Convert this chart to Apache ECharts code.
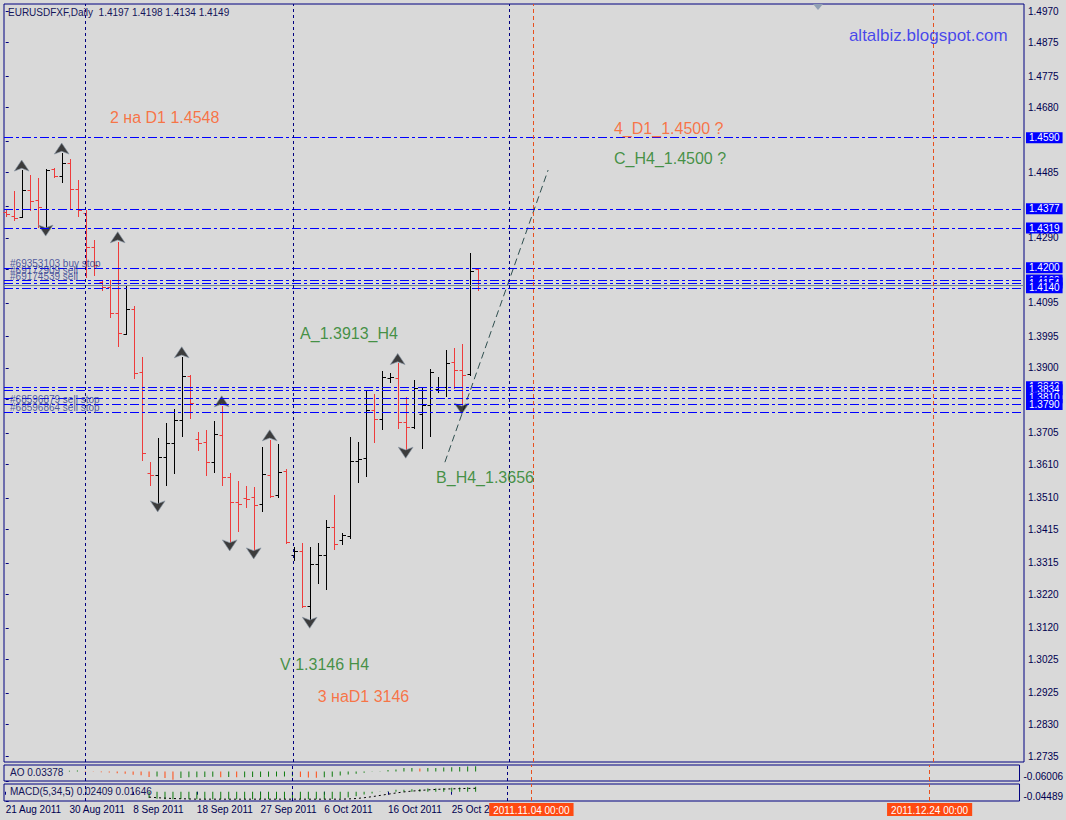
<!DOCTYPE html>
<html><head><meta charset="utf-8">
<script src="https://cdn.jsdelivr.net/npm/echarts@6/dist/echarts.min.js"></script>
<style>html,body{margin:0;padding:0;background:#d9d9d9}#c{width:1066px;height:820px}</style>
</head><body><div id="c"></div><script>
const dates = ['21 Aug 2011','22 Aug 2011','23 Aug 2011','24 Aug 2011','25 Aug 2011','26 Aug 2011','28 Aug 2011','29 Aug 2011','30 Aug 2011','31 Aug 2011',
'1 Sep 2011','2 Sep 2011','4 Sep 2011','5 Sep 2011','6 Sep 2011','7 Sep 2011','8 Sep 2011','9 Sep 2011','11 Sep 2011','12 Sep 2011',
'13 Sep 2011','14 Sep 2011','15 Sep 2011','16 Sep 2011','18 Sep 2011','19 Sep 2011','20 Sep 2011','21 Sep 2011','22 Sep 2011','23 Sep 2011',
'25 Sep 2011','26 Sep 2011','27 Sep 2011','28 Sep 2011','29 Sep 2011','30 Sep 2011','2 Oct 2011','3 Oct 2011','4 Oct 2011','5 Oct 2011',
'6 Oct 2011','7 Oct 2011','9 Oct 2011','10 Oct 2011','11 Oct 2011','12 Oct 2011','13 Oct 2011','14 Oct 2011','16 Oct 2011','17 Oct 2011',
'18 Oct 2011','19 Oct 2011','20 Oct 2011','21 Oct 2011','23 Oct 2011','24 Oct 2011','25 Oct 2011','26 Oct 2011','27 Oct 2011','28 Oct 2011'];
const open  = [1.4367,1.4355,1.4352,1.4433,1.4403,1.4376,1.4496,1.4475,1.4514,1.4436,1.4364,1.4263,1.4158,1.4143,1.4065,1.4002,1.4077,1.3888,1.3585,1.3579,1.3633,1.3675,1.3744,1.3876,1.3687,1.3678,1.3618,1.3699,1.3573,1.3498,1.3510,1.3513,1.3492,1.3579,1.3519,1.3591,1.3339,1.3351,1.3186,1.3312,1.3339,1.3423,1.3384,1.3396,1.3621,1.3630,1.3774,1.3747,1.3870,1.3870,1.3738,1.3722,1.3761,1.3788,1.3836,1.3842,1.3917,1.3893,1.3881,1.4197];
const high  = [1.4373,1.4430,1.4493,1.4478,1.4469,1.4496,1.4499,1.4544,1.4526,1.4463,1.4373,1.4284,1.4161,1.4164,1.4278,1.4146,1.4086,1.3933,1.3618,1.3690,1.3735,1.3777,1.3933,1.3879,1.3708,1.3714,1.3741,1.3786,1.3585,1.3561,1.3546,1.3543,1.3663,1.3684,1.3672,1.3597,1.3363,1.3375,1.3363,1.3375,1.3444,1.3519,1.3405,1.3693,1.3678,1.3831,1.3822,1.3891,1.3885,1.3913,1.3813,1.3863,1.3839,1.3896,1.3872,1.3953,1.3959,1.3971,1.4244,1.4198];
const low   = [1.4355,1.4343,1.4352,1.4373,1.4322,1.4322,1.4472,1.4457,1.4376,1.4355,1.4173,1.4179,1.4134,1.4053,1.3966,1.4002,1.3870,1.3624,1.3549,1.3495,1.3549,1.3585,1.3696,1.3750,1.3654,1.3579,1.3588,1.3549,1.3378,1.3411,1.3483,1.3354,1.3471,1.3513,1.3513,1.3375,1.3324,1.3183,1.3146,1.3255,1.3237,1.3357,1.3372,1.3390,1.3558,1.3576,1.3678,1.3717,1.3858,1.3720,1.3656,1.3719,1.3660,1.3695,1.3827,1.3815,1.3839,1.3788,1.3878,1.4134];
const close = [1.4361,1.4349,1.4433,1.4400,1.4382,1.4493,1.4475,1.4514,1.4436,1.4373,1.4263,1.4209,1.4143,1.4065,1.4005,1.4077,1.3885,1.3645,1.3579,1.3633,1.3675,1.3744,1.3876,1.3795,1.3675,1.3618,1.3702,1.3573,1.3498,1.3492,1.3507,1.3489,1.3582,1.3516,1.3588,1.3378,1.3351,1.3186,1.3312,1.3339,1.3423,1.3372,1.3399,1.3621,1.3627,1.3774,1.3747,1.3873,1.3873,1.3738,1.3723,1.3839,1.3788,1.3887,1.3842,1.3914,1.3893,1.3878,1.4190,1.4149];
const upFractals = [2,7,14,22,27,33,49];
const downFractals = [5,19,28,31,38,50,57];
const ao = [null,null,null,null,null,null,null,null,0.004,0.006,0.003,-0.002,-0.005,-0.007,-0.011,-0.015,-0.020,-0.024,-0.035,-0.031,-0.041,-0.052,-0.041,-0.037,-0.036,-0.035,-0.033,-0.037,-0.035,-0.037,-0.036,-0.035,-0.034,-0.033,-0.032,-0.031,-0.030,-0.034,-0.038,-0.040,-0.036,-0.033,-0.026,-0.019,-0.014,-0.008,-0.002,0.002,0.009,0.013,0.022,0.0225,0.0196,0.022,0.0225,0.026,0.027,0.028,0.031,0.03378];
const macdMain = [null,null,null,null,null,null,null,null,null,null,null,null,null,null,null,null,null,null,-0.030,-0.034,-0.036,-0.037,-0.035,-0.036,-0.037,-0.037,-0.036,-0.037,-0.037,-0.037,-0.037,-0.037,-0.036,-0.036,-0.036,-0.037,-0.037,-0.037,-0.037,-0.037,-0.036,-0.035,-0.033,-0.028,-0.022,-0.014,-0.008,-0.001,0.002,0.009,0.010,0.012,0.013,0.015,0.016,0.018,0.019,0.020,0.022,0.02409];
const macdSignal = [null,null,null,null,null,null,null,null,null,null,null,null,null,null,null,null,null,null,-0.026,-0.029,-0.031,-0.033,-0.034,-0.035,-0.036,-0.036,-0.036,-0.036,-0.036,-0.036,-0.036,-0.036,-0.036,-0.036,-0.036,-0.036,-0.036,-0.036,-0.036,-0.036,-0.036,-0.036,-0.036,-0.035,-0.033,-0.029,-0.024,-0.018,-0.012,-0.006,-0.001,0.003,0.006,0.009,0.011,0.013,0.014,0.015,0.016,0.01646];
const priceTicks = [1.4970,1.4875,1.4775,1.4680,1.4580,1.4485,1.4385,1.4290,1.4195,1.4095,1.3995,1.3900,1.3805,1.3705,1.3610,1.3510,1.3415,1.3315,1.3220,1.3120,1.3025,1.2925,1.2830,1.2735];
const priceLabels = [1.4970,1.4875,1.4775,1.4680,1.4485,1.4290,1.4095,1.3995,1.3900,1.3705,1.3610,1.3510,1.3415,1.3315,1.3220,1.3120,1.3025,1.2925,1.2830,1.2735];
const levelPrices = [1.4590,1.4377,1.4319,1.4200,1.4163,1.4154,1.4140,1.3843,1.3834,1.3810,1.3790,1.3766];
const levelLabeled = [true,true,true,true,true,true,true,true,true,true,true,false];
const bidPrice = 1.4149;
const separators = [10,36,63];
const timeLines = [66,116];
const timeLineLabels = ['2011.11.04 00:00','2011.12.24 00:00'];
const trendLine = [[54.9,1.3617],[67.8,1.4493]];
const noteTexts = ['2 на D1 1.4548','4_D1_1.4500 ?','C_H4_1.4500 ?','A_1.3913_H4','B_H4_1.3656','V 1.3146 H4','3 наD1 3146','altalbiz.blogspot.com'];
const noteX = [13.04,76.04,76.04,36.8,53.8,34.3,39.0,105.4];
const noteY = [1.4652,1.4619,1.4529,1.4002,1.3570,1.3010,1.2914,1.4898];
const noteColors = ['#ff5a1e','#ff5a1e','#1c7d1c','#1c7d1c','#1c7d1c','#1c7d1c','#ff5a1e','#1f1fef'];
const orderTexts = ['#69353103 buy stop','#69172909 sell','#69174539 sell','#68596879 sell stop','#68596864 sell stop'];
const orderY = [1.4212,1.4191,1.4173,1.3804,1.3780];
const aoRange = [-0.06006,0.0411];
const macdRange = [-0.04489,0.03737];

const FONT = 'Liberation Sans';
const NAVY = '#000080';
const xMin = -0.2125, xMax = 127.2875;
const chart = echarts.init(document.getElementById('c'), null, {renderer:'svg'});
const ohlc = dates.map((d,i)=>[i,open[i],high[i],low[i],close[i]]);
const labelTicks = dates.map((d,i)=>i).filter(i=>i%8===0);

function xAx(idx, showLabels){
  return {type:'value', gridIndex:idx, min:xMin, max:xMax, splitLine:{show:false},
    axisLine:{show:false},
    axisTick:{show:showLabels, customValues:labelTicks, length:3, lineStyle:{color:NAVY}},
    axisLabel:{show:showLabels, customValues:labelTicks, formatter:v=>dates[Math.round(v)]||'', align:'left', margin:3,
      color:'#000050', fontSize:10, fontFamily:FONT}};
}
const levelMarks = levelPrices.map((p,i)=>({yAxis:p,
  lineStyle:{color:'#0000ff', type:[9,3,3,3], width:1},
  label:{show:levelLabeled[i], position:'end', distance:2, formatter:p.toFixed(4), color:'#fff', backgroundColor:'#0000ff',
    fontSize:10, fontFamily:FONT, padding:[1,3,0,3], lineHeight:10}}));
levelMarks.push({yAxis:bidPrice, lineStyle:{color:'#778899', type:'solid', width:1}, label:{show:false}});
function vMarks(withLabels){
  const m = separators.map(s=>({xAxis:s, lineStyle:{color:NAVY, type:[3,3], width:1}, label:{show:false}}));
  timeLines.forEach((t,i)=>m.push({xAxis:t, lineStyle:{color:'#e8501e', type:[4,3], width:1},
    label:{show:withLabels, position:'start', distance:2, formatter:timeLineLabels[i], color:'#fff', backgroundColor:'#ff4a12',
      fontSize:10, fontFamily:FONT, padding:[2,4,1,4]}}));
  return m;
}
const arrowStyle = {color:'#141414', borderColor:'#8795a5', borderWidth:0.8};

chart.setOption({
  backgroundColor:'#d9d9d9',
  animation:false,
  title:[
    {text:'EURUSDFXF,Daily  1.4197 1.4198 1.4134 1.4149', left:8, top:7, padding:0, textStyle:{fontSize:10, fontWeight:'normal', color:'#14145a', fontFamily:FONT}},
    {text:'AO 0.03378', left:10, top:767, padding:0, textStyle:{fontSize:10, fontWeight:'normal', color:'#14145a', fontFamily:FONT}},
    {text:'MACD(5,34,5) 0.02409 0.01646', left:10, top:786, padding:0, textStyle:{fontSize:10, fontWeight:'normal', color:'#14145a', fontFamily:FONT}}
  ],
  graphic:[{type:'polygon', shape:{points:[[813,4],[823,4],[818,10]]}, style:{fill:'#90a0b4'}}],
  grid:[
    {left:4, top:4, width:1020, height:758, show:true, borderColor:NAVY, borderWidth:1},
    {left:4, top:765, width:1020, height:16, show:true, borderColor:NAVY, borderWidth:1},
    {left:4, top:784, width:1020, height:17, show:true, borderColor:NAVY, borderWidth:1}
  ],
  xAxis:[xAx(0,false), xAx(1,false), xAx(2,true)],
  yAxis:[
    {type:'value', gridIndex:0, position:'right', min:1.2718, max:1.4991, splitLine:{show:false}, axisLine:{show:false},
      axisTick:{show:true, customValues:priceTicks, length:3, lineStyle:{color:NAVY}},
      axisLabel:{customValues:priceLabels, formatter:v=>v.toFixed(4), margin:4, color:'#000050', fontSize:10, fontFamily:FONT}},
    {type:'value', gridIndex:1, position:'right', min:aoRange[0], max:aoRange[1], splitLine:{show:false}, axisLine:{show:false},
      axisTick:{show:true, customValues:[aoRange[0]], length:3, lineStyle:{color:NAVY}},
      axisLabel:{customValues:[aoRange[0]], formatter:v=>v.toFixed(5), verticalAlign:'bottom', margin:4, color:'#000050', fontSize:10, fontFamily:FONT}},
    {type:'value', gridIndex:2, position:'right', min:macdRange[0], max:macdRange[1], splitLine:{show:false}, axisLine:{show:false},
      axisTick:{show:true, customValues:[macdRange[0]], length:3, lineStyle:{color:NAVY}},
      axisLabel:{customValues:[macdRange[0]], formatter:v=>v.toFixed(5), verticalAlign:'bottom', margin:4, color:'#000050', fontSize:10, fontFamily:FONT}}
  ],
  series:[
    {type:'line', name:'levels', xAxisIndex:0, yAxisIndex:0, data:trendLine, symbol:'none', silent:true,
      lineStyle:{color:'#2f4f4f', type:[7,4], width:1},
      markLine:{silent:true, precision:5, symbol:['none','none'], animation:false, data:levelMarks.concat(vMarks(false))}},
    {type:'custom', name:'EURUSD', xAxisIndex:0, yAxisIndex:0, data:ohlc, encode:{x:0, y:[1,2,3,4]}, z:3,
      renderItem:function(params, api){
        const i = api.value(0);
        const o = api.coord([i, api.value(1)]);
        const h = api.coord([i, api.value(2)]);
        const l = api.coord([i, api.value(3)]);
        const c = api.coord([i, api.value(4)]);
        const x = Math.round(h[0]) + 0.5;
        const yo = Math.round(o[1]) + 0.5, yc = Math.round(c[1]) + 0.5;
        const st = {stroke: api.value(4) >= api.value(1) ? '#000000' : '#ee3b3b', lineWidth:1};
        return {type:'group', children:[
          {type:'line', shape:{x1:x, y1:Math.round(h[1]), x2:x, y2:Math.round(l[1])+1}, style:st},
          {type:'line', shape:{x1:x-3, y1:yo, x2:x, y2:yo}, style:st},
          {type:'line', shape:{x1:x, y1:yc, x2:x+3.5, y2:yc}, style:st}
        ]};
      }},
    {type:'scatter', name:'upFractals', xAxisIndex:0, yAxisIndex:0, symbol:'arrow', symbolSize:[11,11], symbolOffset:[0,-10], z:4,
      data:upFractals.map(i=>[i, high[i]]), itemStyle:arrowStyle, silent:true},
    {type:'scatter', name:'downFractals', xAxisIndex:0, yAxisIndex:0, symbol:'arrow', symbolSize:[11,11], symbolRotate:180, symbolOffset:[0,9], z:4,
      data:downFractals.map(i=>[i, low[i]]), itemStyle:arrowStyle, silent:true},
    {type:'scatter', name:'notes', xAxisIndex:0, yAxisIndex:0, symbolSize:0, silent:true, z:6,
      data:noteTexts.map((t,i)=>({value:[noteX[i], noteY[i]], label:{show:true, position:'right', distance:0, formatter:t,
        color:noteColors[i], fontSize:(i===7?17:16), fontFamily:FONT}}))},
    {type:'scatter', name:'orders', xAxisIndex:0, yAxisIndex:0, symbolSize:0, silent:true, z:6,
      data:orderTexts.map((t,i)=>({value:[0.54, orderY[i]], label:{show:true, position:'right', distance:0, formatter:t,
        color:'#2a378e', fontSize:10, fontFamily:FONT}}))},
    {type:'bar', name:'AO', xAxisIndex:1, yAxisIndex:1, barWidth:1, silent:true,
      data:ao.map((v,i)=>v===null?null:[i,v]),
      itemStyle:{color:function(p){const i=p.dataIndex; const prev=ao[i-1]; return (prev===null||prev===undefined||ao[i]>=prev)?'#0d7a0d':'#ff4a12';}},
      markLine:{silent:true, precision:5, symbol:['none','none'], data:vMarks(false)}},
    {type:'bar', name:'MACD', xAxisIndex:2, yAxisIndex:2, barWidth:1, silent:true,
      data:macdMain.map((v,i)=>v===null?null:[i,v]), itemStyle:{color:'#0d7a0d'},
      markLine:{silent:true, precision:5, symbol:['none','none'], data:vMarks(true)}},
    {type:'line', name:'Signal', xAxisIndex:2, yAxisIndex:2, symbol:'none', silent:true, connectNulls:false,
      data:macdSignal.map((v,i)=>v===null?null:[i,v]), lineStyle:{color:'#000', type:[2,3], width:1}}
  ]
});
</script></body></html>
